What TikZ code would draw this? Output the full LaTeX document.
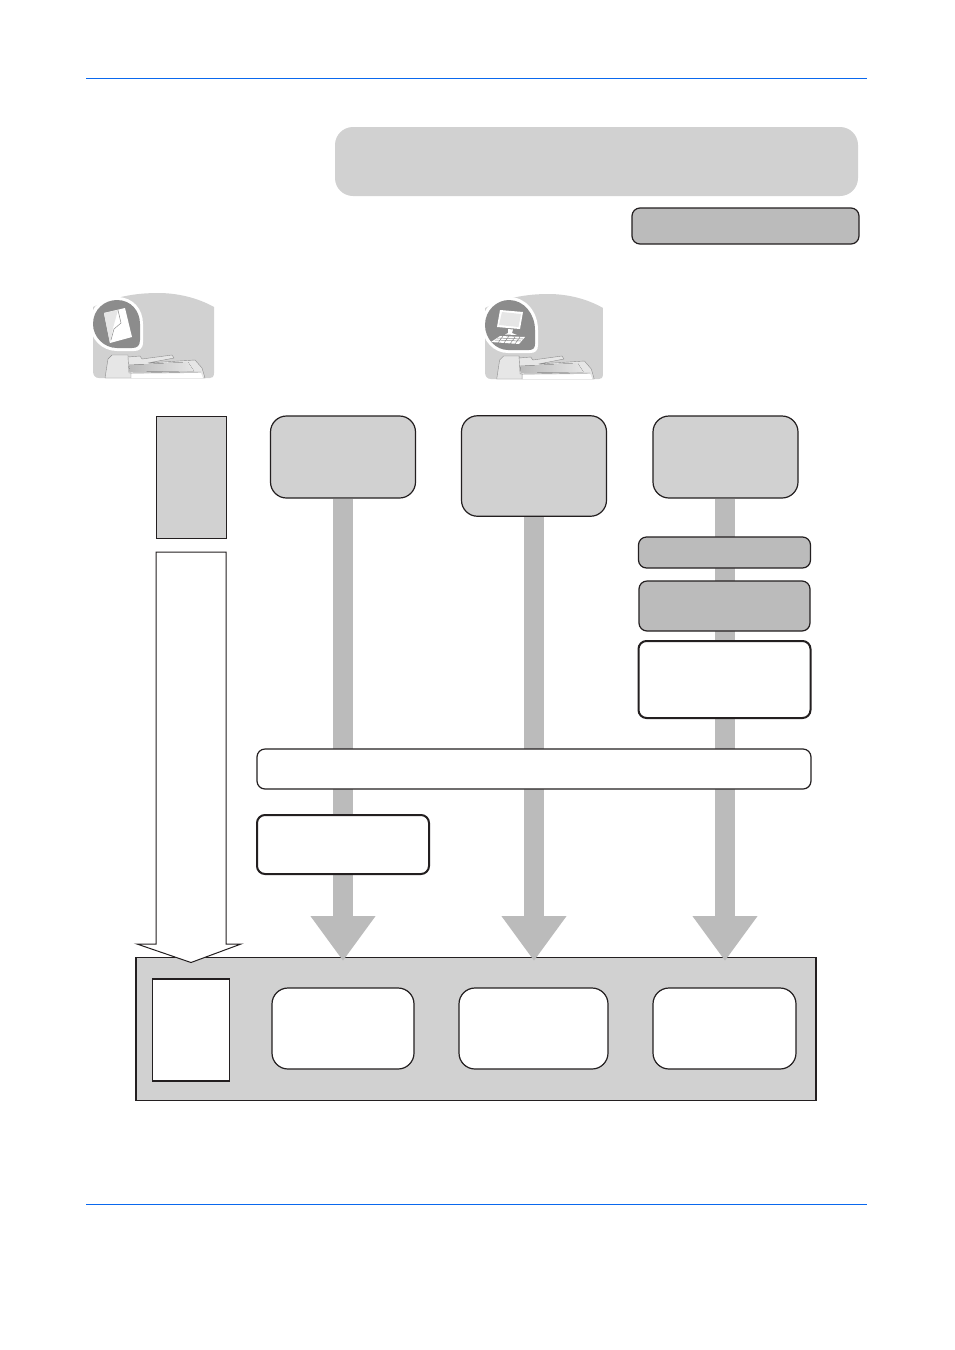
\documentclass[tikz,border=0pt]{standalone}
\usepackage{xcolor}
\usetikzlibrary{arrows.meta}
\definecolor{panelgray}{HTML}{D1D1D1}
\definecolor{darkgray}{HTML}{BBBBBB}
\definecolor{iconmark}{HTML}{8C8C8C}
\definecolor{iconlight}{HTML}{E6E6E6}
\definecolor{rulecolor}{HTML}{0A68EE}
\definecolor{edgecolor}{HTML}{231F20}
\tikzset{
  box/.style={draw=edgecolor,line width=1.2pt,rounded corners=16pt,inner sep=0pt,outer sep=0pt},
  slimbox/.style={box,rounded corners=8pt},
  heavybox/.style={slimbox,line width=2pt,fill=white},
  flow/.style={darkgray,line width=20pt,shorten <=1pt,-{Triangle[length=45pt,width=62pt]}},
  scanner/.pic={
    \fill[panelgray] (0,14) .. controls (20,4) and (42,0) .. (65,0) .. controls (85,0) and (105,5) .. (121,14) -- (121,80) .. controls (121,84) and (119,85) .. (117,85) -- (6,85) .. controls (2,85) and (0,82) .. (0,78) -- cycle;
    \filldraw[fill=iconlight,draw=iconmark,line width=.4pt] (12,85) -- (15,66) -- (19,62) -- (35,62) -- (35,64) -- (47,63) -- (49,66) -- (79,62) -- (81,65) -- (55,70) -- (102,67) -- (109,75) -- (112,85) -- cycle;
    \fill[left color=iconmark!60,right color=iconlight] (36,72) -- (95,69) -- (101,78) -- (37,79) -- cycle;
    \fill[white] (38,81) -- (108,80) -- (110,85) -- (38,85) -- cycle;
    \draw[iconmark,line width=.4pt] (35,64) -- (36,80) -- (108,79) (38,80) -- (38,85);
  }
}
\begin{document}
\begin{tikzpicture}[x=1pt,y=-1pt]
\useasboundingbox (0,0) rectangle (954,1350);
\fill[white] (0,0) rectangle (954,1350);
\coordinate (rulea) at (86,78.5);
\coordinate (ruleb) at (867,78.5);
\coordinate (rulec) at (86,1204.5);
\coordinate (ruled) at (867,1204.5);
\draw[rulecolor,line width=1pt] (rulea) -- (ruleb);
\draw[rulecolor,line width=1pt] (rulec) -- (ruled);
\node[fill=panelgray,rounded corners=18pt,inner sep=0pt,minimum width=523pt,minimum height=69pt] (title) at (596.5,161.5) {};
\node[slimbox,fill=darkgray,minimum width=227pt,minimum height=36pt] (titlenote) at (745.5,226) {};
\pic at (93,293) {scanner};
\pic[xscale=.975] at (485,294) {scanner};
% first mark and its page
\fill[white] (90,324) .. controls (90,305) and (103,297) .. (117,297) .. controls (133,297) and (143,309) .. (143,324) -- (143,342) .. controls (143,349) and (139,351) .. (134,351) -- (117,351) .. controls (102,351) and (90,339) .. (90,324) -- cycle;
\fill[iconmark] (93,324) .. controls (93,309) and (105,300) .. (117,300) .. controls (131,300) and (140,311) .. (140,324) -- (140,340) .. controls (140,346) and (137,348) .. (132,348) -- (117,348) .. controls (104,348) and (93,337) .. (93,324) -- cycle;
\fill[white] (104,313) -- (125,308) -- (132,337) -- (110,343) -- cycle;
\fill[iconlight] (104,313) -- (118,310) -- (113,328) -- (110,343) -- cycle;
\draw[iconmark,line width=.5pt] (118,310) -- (121,323) -- (114,329) -- (111,340);
% second mark, screen and keyboard
\fill[white] (482,325) .. controls (482,307) and (495,297) .. (509,297) .. controls (526,297) and (538,312) .. (538,330) -- (538,345) .. controls (538,351) and (535,353) .. (530,353) -- (508,353) .. controls (494,353) and (482,341) .. (482,325) -- cycle;
\fill[iconmark] (485,325) .. controls (485,310) and (497,300) .. (509,300) .. controls (524,300) and (535,314) .. (535,330) -- (535,344) .. controls (535,348) and (533,350) .. (529,350) -- (508,350) .. controls (496,350) and (485,339) .. (485,325) -- cycle;
\fill[white] (500,310) -- (523,312) -- (520,329) -- (497,327) -- cycle;
\fill[iconlight] (502,312) -- (521,314) -- (518.5,327) -- (499,325) -- cycle;
\fill[white] (508,329) -- (513,329.5) -- (512,333) -- (517,335) -- (505,334.5) -- (508,333) -- cycle;
\fill[white] (500,336) -- (525,337) -- (519,344) -- (491,342) -- cycle;
\draw[iconmark,line width=.5pt] (497,338) -- (523,339) (495,340) -- (521,341) (503,336) -- (498,343) (509,336) -- (504,343) (515,337) -- (510,344) (520,337) -- (515,344);
\node[draw=edgecolor,line width=1.2pt,fill=panelgray,inner sep=0pt,outer sep=0pt,minimum width=680pt,minimum height=143pt,anchor=north west] (panel) at (136,957.5) {};
\node[draw=edgecolor,line width=1.6pt,fill=white,inner sep=0pt,minimum width=77pt,minimum height=102pt] (pagebox) at (191,1030) {};
\node[box,fill=white,minimum width=142pt,minimum height=81pt] (resulta) at (343,1028.5) {};
\node[box,fill=white,minimum width=149pt,minimum height=81pt] (resultb) at (533.5,1028.5) {};
\node[box,fill=white,minimum width=143pt,minimum height=81pt] (resultc) at (724.5,1028.5) {};
\coordinate (tipa) at (343,961);
\coordinate (tipb) at (534,961);
\coordinate (tipc) at (725,961);
\node[draw=edgecolor,line width=1pt,fill=panelgray,inner sep=0pt,outer sep=0pt,minimum width=70pt,minimum height=122pt] (guide) at (191,477) {};
\node[box,fill=panelgray,minimum width=145pt,minimum height=82pt] (starta) at (343,457) {};
\node[box,fill=panelgray,minimum width=145pt,minimum height=100.5pt] (startb) at (534,466) {};
\node[box,fill=panelgray,minimum width=145pt,minimum height=82pt] (startc) at (725.5,457) {};
\draw[flow] (starta.south) -- (tipa);
\draw[flow] (startb.south) -- (tipb);
\draw[flow] (startc.south -| tipc) -- (tipc);
\node[slimbox,fill=darkgray,minimum width=172pt,minimum height=31pt] (stepa) at (724.5,552.5) {};
\node[slimbox,fill=darkgray,minimum width=171pt,minimum height=50pt] (stepb) at (724.5,606) {};
\node[heavybox,minimum width=172pt,minimum height=77pt] (stepc) at (724.5,679.5) {};
\node[slimbox,fill=white,minimum width=554pt,minimum height=40pt] (common) at (534,769) {};
\node[heavybox,minimum width=172pt,minimum height=59pt] (stepd) at (343,844.5) {};
\coordinate (whitea) at (156,552);
\coordinate (whiteb) at (226,552);
\coordinate (whitec) at (191,962.5);
\draw[edgecolor,line width=1pt,fill=white] (whitea) -- (whiteb) -- (226,944) -- (241,944) -- (whitec) -- (137,944) -- (156,944) -- cycle;
\end{tikzpicture}
\end{document}
